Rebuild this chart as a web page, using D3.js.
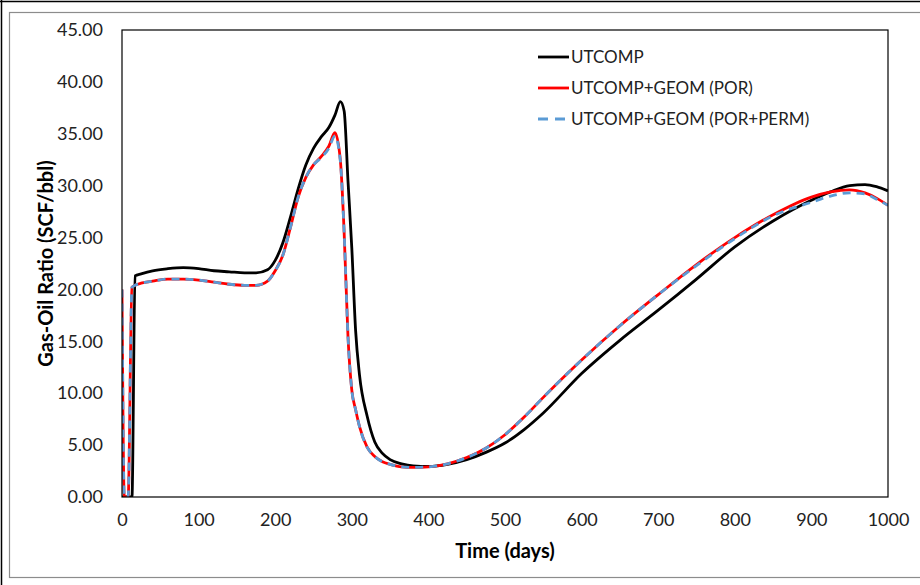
<!DOCTYPE html>
<html>
<head>
<meta charset="utf-8">
<script src="https://cdn.jsdelivr.net/npm/d3@7"></script>
<style>
  body { margin: 0; background: #fff; }
  svg { display: block; font-family: Lato, 'Open Sans', sans-serif; }
</style>
</head>
<body>
<svg id="chart"></svg>
<script>
// time axis (days) shared by the three runs
const days = [0, 3, 8, 13, 17, 25, 40, 60, 80, 100, 120, 140, 160, 175, 190, 200, 210, 220, 230, 240,
    250, 260, 270, 278, 285, 290, 295, 300, 305, 310, 320, 330, 340, 350, 365, 380, 400, 425, 450, 475,
    500, 525, 550, 600, 650, 700, 750, 800, 850, 900, 925, 950, 970, 985, 1000];

const utcomp = [0, 0, 0, 0, 21.3, 21.5, 21.8, 22.0, 22.1, 22.0, 21.8, 21.7, 21.6, 21.6, 21.9, 22.8, 24.5, 27.0, 29.7, 32.0,
    33.6, 34.7, 35.6, 36.8, 38.1, 37.2, 30.5, 24.0, 16.0, 11.8, 7.8, 5.3, 4.2, 3.6, 3.2, 3.0, 2.95, 3.15, 3.6, 4.3,
    5.2, 6.5, 8.1, 11.9, 15.1, 18.0, 21.0, 24.1, 26.6, 28.6, 29.4, 30.0, 30.1, 29.9, 29.5];

const utcompPor = [20.0, 0, 0, 20.2, 20.4, 20.6, 20.8, 21.0, 21.0, 20.9, 20.7, 20.5, 20.4, 20.4, 20.8, 21.8, 23.3, 26.0, 28.9, 30.8,
    32.0, 32.8, 33.8, 35.1, 32.5, 25.5, 15.5, 10.3, 8.4, 6.8, 4.8, 3.9, 3.4, 3.15, 2.9, 2.85, 2.9, 3.2, 3.8, 4.7,
    6.0, 7.7, 9.6, 13.2, 16.5, 19.5, 22.4, 25.0, 27.2, 28.9, 29.4, 29.6, 29.3, 28.8, 28.1];

const utcompPorPerm = [20.0, 0, 0, 20.2, 20.4, 20.6, 20.8, 21.0, 21.0, 20.9, 20.7, 20.5, 20.4, 20.4, 20.8, 21.8, 23.3, 26.0, 28.9, 30.8,
    32.0, 32.7, 33.6, 34.8, 32.4, 25.5, 15.5, 10.3, 8.4, 6.8, 4.8, 3.9, 3.4, 3.15, 2.9, 2.85, 2.9, 3.2, 3.8, 4.7,
    6.0, 7.7, 9.6, 13.2, 16.5, 19.5, 22.3, 24.9, 27.1, 28.4, 29.0, 29.3, 29.2, 28.7, 28.1];

const seriesNames = ['UTCOMP', 'UTCOMP+GEOM (POR)', 'UTCOMP+GEOM (POR+PERM)'];
const yTicks = [0, 5, 10, 15, 20, 25, 30, 35, 40, 45];
const xTicks = [0, 100, 200, 300, 400, 500, 600, 700, 800, 900, 1000];

const WIDTH = 920;
const HEIGHT = 585;
const PLOT = {left: 122, right: 888, top: 30, bottom: 497};

const x = d3.scaleLinear().domain([0, 1000]).range([PLOT.left, PLOT.right]);
const y = d3.scaleLinear().domain([0, 45]).range([PLOT.bottom, PLOT.top]);

const svg = d3.select('#chart')
    .attr('width', WIDTH)
    .attr('height', HEIGHT);

// outer frame
svg.append('rect')
    .attr('x', 9.5).attr('y', 12.5)
    .attr('width', 930).attr('height', 565)
    .attr('fill', 'none')
    .attr('stroke', '#8c8c8c')
    .attr('stroke-width', 1.2);
svg.append('line')
    .attr('x1', 0).attr('x2', WIDTH).attr('y1', 1.5).attr('y2', 1.5)
    .attr('stroke', '#000').attr('stroke-width', 1.5);
svg.append('line')
    .attr('x1', 1.5).attr('x2', 1.5).attr('y1', 0).attr('y2', HEIGHT)
    .attr('stroke', '#000').attr('stroke-width', 1.5);

// axes (labels only, no tick marks)
const yAxis = svg.append('g')
    .attr('transform', `translate(${PLOT.left}, 0)`)
    .call(d3.axisLeft(y).tickValues(yTicks).tickFormat(d3.format('.2f')).tickSize(0).tickPadding(19));
const xAxis = svg.append('g')
    .attr('transform', `translate(0, ${PLOT.bottom})`)
    .call(d3.axisBottom(x).tickValues(xTicks).tickFormat(d3.format('d')).tickSize(0).tickPadding(16));

[yAxis, xAxis].forEach(ax => {
    ax.select('.domain').remove();
    ax.selectAll('text')
        .attr('fill', '#222')
        .style('font-size', '18px')
        .style('font-family', 'Lato, sans-serif');
});

svg.append('defs').append('clipPath').attr('id', 'plot-clip')
    .append('rect')
    .attr('x', PLOT.left).attr('y', PLOT.top - 5)
    .attr('width', PLOT.right - PLOT.left).attr('height', PLOT.bottom - PLOT.top + 5);

const line = d3.line()
    .x((d, i) => x(days[i]))
    .y(d => y(d))
    .curve(d3.curveMonotoneX);

const lines = svg.append('g').attr('clip-path', 'url(#plot-clip)');

lines.append('path')
    .datum(utcomp)
    .attr('d', line)
    .attr('fill', 'none')
    .attr('stroke', '#000')
    .attr('stroke-width', 2.8);

lines.append('path')
    .datum(utcompPor)
    .attr('d', line)
    .attr('fill', 'none')
    .attr('stroke', '#ff0000')
    .attr('stroke-width', 2.8);

lines.append('path')
    .datum(utcompPorPerm)
    .attr('d', line)
    .attr('fill', 'none')
    .attr('stroke', '#5b9bd5')
    .attr('stroke-width', 2.8)
    .attr('stroke-dasharray', '8,6');

// plot border
svg.append('rect')
    .attr('x', PLOT.left).attr('y', PLOT.top)
    .attr('width', PLOT.right - PLOT.left).attr('height', PLOT.bottom - PLOT.top)
    .attr('fill', 'none')
    .attr('stroke', '#000')
    .attr('stroke-width', 1.2);

// legend
const legendStyles = [
    {color: '#000', dash: null},
    {color: '#ff0000', dash: null},
    {color: '#5b9bd5', dash: '10,7'}
];
const legend = svg.append('g').attr('transform', 'translate(538, 57)');
seriesNames.forEach((name, i) => {
    const row = legend.append('g').attr('transform', `translate(0, ${i * 31})`);
    row.append('line')
        .attr('x1', 0).attr('x2', 31)
        .attr('stroke', legendStyles[i].color)
        .attr('stroke-width', 2.8)
        .attr('stroke-dasharray', legendStyles[i].dash);
    row.append('text')
        .attr('x', 33)
        .attr('dy', '0.35em')
        .attr('fill', '#222')
        .style('font-size', '17px')
        .text(name);
});

// axis titles
svg.append('text')
    .attr('x', (PLOT.left + PLOT.right) / 2)
    .attr('y', 551)
    .attr('dy', '0.35em')
    .attr('text-anchor', 'middle')
    .style('font-size', '20px')
    .style('font-weight', 'bold')
    .text('Time (days)');

svg.append('text')
    .attr('transform', `translate(46, ${(PLOT.top + PLOT.bottom) / 2}) rotate(-90)`)
    .attr('dy', '0.35em')
    .attr('text-anchor', 'middle')
    .style('font-size', '20px')
    .style('font-weight', 'bold')
    .text('Gas-Oil Ratio (SCF/bbl)');
</script>
</body>
</html>
